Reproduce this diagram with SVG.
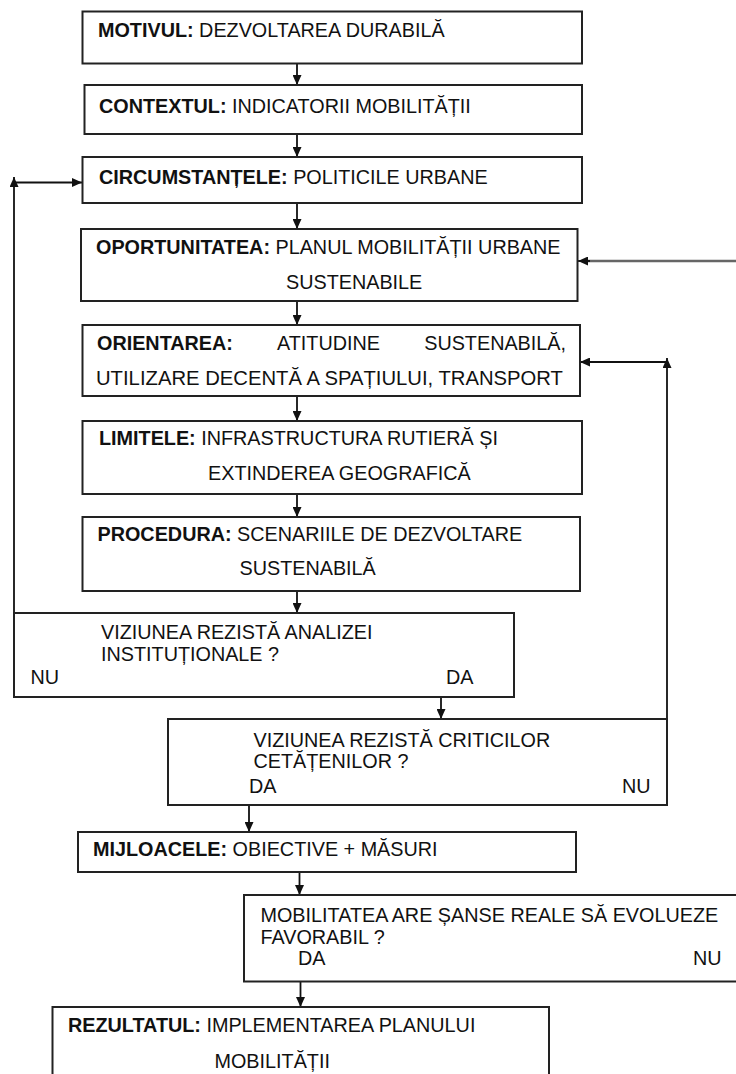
<svg xmlns="http://www.w3.org/2000/svg" width="736" height="1074" viewBox="0 0 736 1074">
<defs>
<marker id="ah" markerUnits="userSpaceOnUse" markerWidth="10" markerHeight="9" refX="10" refY="4.5" orient="auto" viewBox="0 0 10 9">
<path d="M0,0 L10,4.5 L0,9 z" fill="#111"/>
</marker>
</defs>
<style>
rect{fill:#fff;stroke:#222;stroke-width:2}
text{font-family:"Liberation Sans",Arial,sans-serif;font-size:19.8px;fill:#111}
.b{font-weight:bold}
.c{fill:none;stroke:#111;stroke-width:1.8}
.g{fill:none;stroke:#666;stroke-width:2.6}
</style>
<rect x="0" y="0" width="736" height="1074" style="fill:#fff;stroke:none"/>
<g id="connectors">
<path class="c" d="M297 64 V85" marker-end="url(#ah)"/>
<path class="c" d="M297 134 V157" marker-end="url(#ah)"/>
<path class="c" d="M297 203 V229" marker-end="url(#ah)"/>
<path class="c" d="M297 301 V325" marker-end="url(#ah)"/>
<path class="c" d="M297 396 V421" marker-end="url(#ah)"/>
<path class="c" d="M297 494 V517" marker-end="url(#ah)"/>
<path class="c" d="M297 591 V613" marker-end="url(#ah)"/>
<path class="c" d="M441 697 V719" marker-end="url(#ah)"/>
<path class="c" d="M249 805 V832" marker-end="url(#ah)"/>
<path class="c" d="M299.5 872 V895" marker-end="url(#ah)"/>
<path class="c" d="M300.5 982 V1007" marker-end="url(#ah)"/>
<path class="c" d="M14 613 V177" marker-end="url(#ah)"/>
<path class="c" d="M14 182.5 H82" marker-end="url(#ah)"/>
<path class="c" d="M667 719 V358" marker-end="url(#ah)"/>
<path class="c" d="M667 362 H580" marker-end="url(#ah)"/>
<path class="g" d="M736 261 H586"/>
<path class="c" d="M590 261 H578" marker-end="url(#ah)"/>
</g>
<g id="motivul">
<rect x="82.5" y="11.5" width="499.5" height="52"/>
<text x="98" y="37"><tspan class="b">MOTIVUL:</tspan> DEZVOLTAREA DURABILĂ</text>
</g>
<g id="contextul">
<rect x="84.5" y="85" width="497.5" height="49"/>
<text x="99" y="113"><tspan class="b">CONTEXTUL:</tspan> INDICATORII MOBILITĂȚII</text>
</g>
<g id="circumstantele">
<rect x="82.5" y="157" width="499.5" height="46"/>
<text x="99" y="184"><tspan class="b">CIRCUMSTANȚELE:</tspan> POLITICILE URBANE</text>
</g>
<g id="oportunitatea">
<rect x="81" y="229" width="496.5" height="72"/>
<text x="96" y="253.5"><tspan class="b">OPORTUNITATEA:</tspan> PLANUL MOBILITĂȚII URBANE</text>
<text x="286" y="288.5">SUSTENABILE</text>
</g>
<g id="orientarea">
<rect x="82.5" y="325" width="497.5" height="71"/>
<text x="97" y="350" class="b">ORIENTAREA:</text>
<text x="277" y="350">ATITUDINE</text>
<text x="566" y="350" text-anchor="end">SUSTENABILĂ,</text>
<text x="96" y="385" textLength="467" lengthAdjust="spacingAndGlyphs">UTILIZARE DECENTĂ A SPAȚIULUI, TRANSPORT</text>
</g>
<g id="limitele">
<rect x="82.5" y="421" width="499.5" height="73"/>
<text x="99" y="445"><tspan class="b">LIMITELE:</tspan> INFRASTRUCTURA RUTIERĂ ȘI</text>
<text x="208" y="480">EXTINDEREA GEOGRAFICĂ</text>
</g>
<g id="procedura">
<rect x="82.5" y="517" width="497.5" height="74"/>
<text x="97.5" y="541"><tspan class="b">PROCEDURA:</tspan> SCENARIILE DE DEZVOLTARE</text>
<text x="239.5" y="575">SUSTENABILĂ</text>
</g>
<g id="analiza">
<rect x="14" y="613" width="500" height="84"/>
<text x="101" y="639">VIZIUNEA REZISTĂ ANALIZEI</text>
<text x="101" y="661">INSTITUȚIONALE ?</text>
<text x="30.5" y="684">NU</text>
<text x="446" y="684">DA</text>
</g>
<g id="criticile">
<rect x="168" y="719" width="499" height="86"/>
<text x="253.5" y="747">VIZIUNEA REZISTĂ CRITICILOR</text>
<text x="253.5" y="768">CETĂȚENILOR ?</text>
<text x="249" y="792.5">DA</text>
<text x="622" y="792.5">NU</text>
</g>
<g id="mijloacele">
<rect x="78" y="832" width="498" height="40"/>
<text x="93" y="856"><tspan class="b">MIJLOACELE:</tspan> OBIECTIVE + MĂSURI</text>
</g>
<g id="mobilitatea">
<rect x="244" y="895" width="530" height="86.5"/>
<text x="260.5" y="921.5">MOBILITATEA ARE ȘANSE REALE SĂ EVOLUEZE</text>
<text x="260.5" y="943.5">FAVORABIL ?</text>
<text x="298" y="965">DA</text>
<text x="693" y="965">NU</text>
</g>
<g id="rezultatul">
<rect x="52.5" y="1007" width="496.5" height="90"/>
<text x="68" y="1032"><tspan class="b">REZULTATUL:</tspan> IMPLEMENTAREA PLANULUI</text>
<text x="214.5" y="1068">MOBILITĂȚII</text>
</g>
</svg>
